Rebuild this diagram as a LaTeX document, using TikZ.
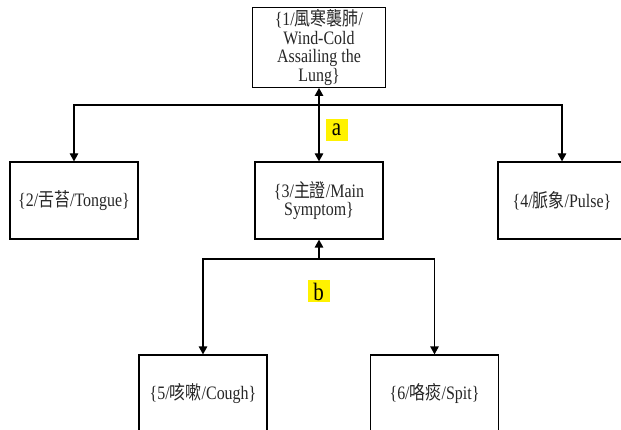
\documentclass[tikz,border=0pt]{standalone}
\usepackage{fontspec}
\setmainfont[FakeStretch=0.84]{Liberation Serif}
\newfontfamily\cjk[FakeStretch=0.84]{Noto Sans CJK TC}
\usetikzlibrary{arrows.meta}
\begin{document}
\begin{tikzpicture}[x=1pt,y=1pt,
  box/.style={draw=black,line width=1.2pt,minimum width=128pt,minimum height=77pt,inner sep=2pt,
    align=center,font=\fontsize{19}{18.5}\selectfont,text=black!85},
  conn/.style={line width=1.2pt,-{Triangle[length=8pt,width=8.5pt]}},
  both/.style={line width=1.2pt,{Triangle[length=8pt,width=8.5pt]}-{Triangle[length=8pt,width=8.5pt]}},
  lab/.style={fill=yellow,inner sep=0pt,minimum width=22pt,minimum height=22pt,font=\fontsize{25}{22}\selectfont}]
\useasboundingbox (0,0) rectangle (621,-430);
\node[box,minimum width=133pt] (n1) at (319,-47.5) {\{1/{\cjk 風寒襲肺}/\\Wind-Cold\\Assailing the\\Lung\}};
\node[box] (n2) at (74,-200.5) {\{2/{\cjk 舌苔}/Tongue\}};
\node[box] (n3) at (319,-200.5) {\{3/{\cjk 主證}/Main\\Symptom\}};
\node[box] (n4) at (562,-200.5) {\{4/{\cjk 脈象}/Pulse\}};
\node[box] (n5) at (203,-393.5) {\{5/{\cjk 咳嗽}/Cough\}};
\node[box] (n6) at (434.5,-393.5) {\{6/{\cjk 咯痰}/Spit\}};
\coordinate (j1) at (319,-105);
\coordinate (j2) at (319,-259);
\draw[both] (n1.south) -- (n3.north);
\draw[conn] (j1) -| (n2.north);
\draw[conn] (j1) -| (n4.north);
\draw[conn] (j2) -- (n3.south);
\draw[conn] (j2) -| (n5.north);
\draw[conn] (j2) -| (n6.north);
\node[lab] (la) at (336.5,-130) {a};
\node[lab] (lb) at (318.5,-291.5) {b};
\end{tikzpicture}
\end{document}
